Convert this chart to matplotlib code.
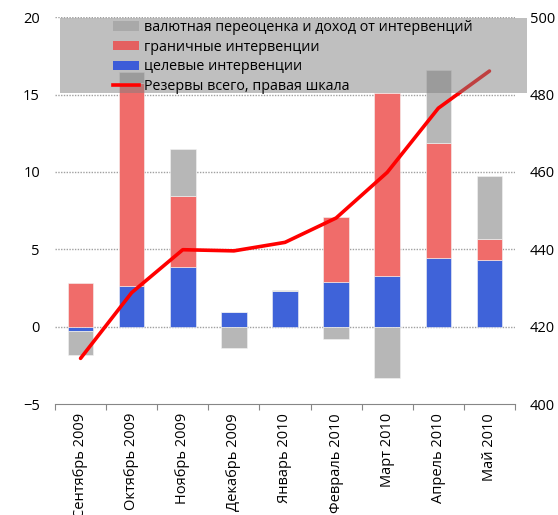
import numpy as np
import matplotlib
matplotlib.use("Agg")
import matplotlib.pyplot as plt
from matplotlib.patches import Patch, Rectangle
from matplotlib.lines import Line2D

plt.rcParams['font.family'] = ['Open Sans', 'DejaVu Sans']

# --- data ---
months = ['Сентябрь 2009', 'Октябрь 2009', 'Ноябрь 2009', 'Декабрь 2009',
          'Январь 2010', 'Февраль 2010', 'Март 2010', 'Апрель 2010', 'Май 2010']
target = [-0.25, 2.65, 3.87, 0.97, 2.33, 2.88, 3.30, 4.43, 4.34]
border = [2.85, 13.1, 4.58, 0.0, 0.0, 4.24, 11.8, 7.47, 1.34]
reval = [-1.6, 0.74, 3.04, -1.36, 0.05, -0.82, -3.34, 4.68, 4.08]
reserves = [411.8, 428.8, 439.9, 439.6, 441.8, 448.1, 459.9, 476.5, 486.1]

labels = ['валютная переоценка и доход от интервенций', 'граничные интервенции',
          'целевые интервенции', 'Резервы всего, правая шкала']

c_gray = '#b7b7b7'
c_red = '#f06c6a'
c_blue = '#3f63d9'
c_line = '#ff0000'

W, H = 558, 515
fig = plt.figure(figsize=(W / 100, H / 100), dpi=100)
ax = fig.add_axes([55 / W, 1 - 404 / H, 460 / W, 386.7 / H])
ax2 = ax.twinx()

x = np.arange(len(months))
pos = np.zeros(len(x))
neg = np.zeros(len(x))
for vals, col in [(target, c_blue), (border, c_red), (reval, c_gray)]:
    v = np.array(vals)
    bot = np.where(v >= 0, pos, neg)
    ax.bar(x, v, 0.5, bottom=bot, color=col, edgecolor='#f4f4f4', linewidth=0.4, zorder=2)
    pos = pos + np.where(v >= 0, v, 0)
    neg = neg + np.where(v < 0, v, 0)

# dotted grid
for g in [0, 5, 10, 15, 20]:
    ax.axhline(g, color='#a0a0a0', lw=1.0, ls=(0, (1, 1)), zorder=1)

ax.set_ylim(-5, 20)
ax.set_xlim(-0.5, len(x) - 0.5)
ax.set_yticks([-5, 0, 5, 10, 15, 20])
ax.set_xticks(x)
ax.set_xticklabels(months, rotation=90)
ax.set_xticks(np.arange(-0.5, len(x)), minor=True)
ax.tick_params(axis='x', which='major', length=0, pad=6.5, labelsize=10.5)
ax.tick_params(axis='x', which='minor', length=4, width=0.8, color='#868686', direction='out')
ax.tick_params(axis='y', length=0, pad=10.8, labelsize=10.5)

ax2.plot(x, reserves, color=c_line, lw=2.6, zorder=3, solid_capstyle='round')
ax2.set_ylim(400, 500)
ax2.set_yticks([400, 420, 440, 460, 480, 500])
ax2.tick_params(axis='y', length=0, pad=10.8, labelsize=10.5)

for a in (ax, ax2):
    for s in ['top', 'left', 'right']:
        a.spines[s].set_visible(False)
ax.spines['bottom'].set_color('#868686')
ax2.spines['bottom'].set_visible(False)

# legend box (semi-transparent, covers the top of the bars)
fig.add_artist(Rectangle((60 / W, 1 - 92.7 / H), 467 / W, 74.4 / H,
                         transform=fig.transFigure, facecolor=(0.5, 0.5, 0.5, 0.5),
                         edgecolor='none', zorder=4))
handles = [Patch(facecolor='#a9a9a9'), Patch(facecolor='#e46060'),
           Patch(facecolor='#3c5cd8'), Line2D([], [], color=c_line, lw=2.6)]
fig.legend(handles, labels, loc='upper left', bbox_to_anchor=(113 / W, 1 - 20 / H),
           frameon=False, borderpad=0, fontsize=10.3, handlelength=1.85,
           handleheight=0.65, handletextpad=0.35, labelspacing=0.33, borderaxespad=0)

fig.savefig('out.png', dpi=100)
